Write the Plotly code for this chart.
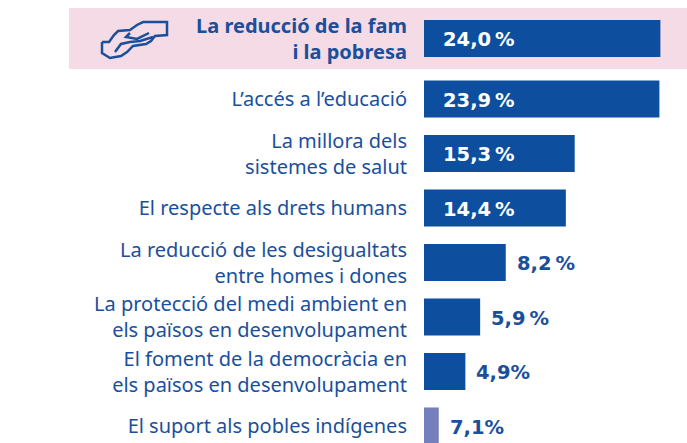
import plotly.graph_objects as go

categories = [
    "<b>La reducció de la fam<br>i la pobresa</b>",
    "L’accés a l’educació",
    "La millora dels<br>sistemes de salut",
    "El respecte als drets humans",
    "La reducció de les desigualtats<br>entre homes i dones",
    "La protecció del medi ambient en<br>els països en desenvolupament",
    "El foment de la democràcia en<br>els països en desenvolupament",
    "El suport als pobles indígenes",
]
bar_values = [24.0, 23.9, 15.3, 14.4, 8.3, 5.7, 4.2, 1.5]
value_labels = ["24,0\u2009%", "23,9\u2009%", "15,3\u2009%", "14,4\u2009%", "8,2\u2009%", "5,9\u2009%", "4,9%", "7,1%"]
row_positions = [0, 1.11, 2.11, 3.11, 4.11, 5.11, 6.11, 7.11]
bar_colors = ["#0d4f9e"] * 7 + ["#757fbb"]

W, H = 687, 443
BLUE = "#1a4f9c"
LABEL_FONT = "Noto Sans"
VALUE_FONT = "DejaVu Sans"
X0 = 424
PX_PER_UNIT = 9.85
ROW_PX = 54.5
ROW0_PX = 38.5

def px(x): return x / W
def py(y): return 1 - y / H

fig = go.Figure(go.Bar(
    x=bar_values, y=row_positions, orientation="h", width=0.68,
    marker=dict(color=bar_colors, line=dict(width=0)), hoverinfo="skip",
))

annotations = []
for v, r, t in zip(bar_values, row_positions, value_labels):
    inside = v > 10
    annotations.append(dict(
        x=0 if inside else v, y=r, xref="x", yref="y", text=f"<b>{t}</b>", showarrow=False,
        xanchor="left", xshift=17 if inside else 9, yanchor="middle", yshift=-1,
        font=dict(family=VALUE_FONT, size=19.5, color="#ffffff" if inside else BLUE),
    ))

def hands_path():
    segs = [
        [(102, 42), (109, 42), (114, 35), (118, 31), (130, 30), (137, 25), (143, 22), (167, 22),
         (167, 35), (155, 36), (151, 41), (146, 44), (133, 46), (127, 52), (121, 56), (110, 58),
         (102, 53), (102, 42)],
        [(130, 33), (126, 37), (137, 39), (149, 33)],
        [(115, 52), (121, 44), (130, 42), (140, 41), (153, 37)],
    ]
    return " ".join("M " + " L ".join(f"{px(x):.4f},{py(y):.4f}" for x, y in s) for s in segs)

fig.update_layout(
    width=W, height=H, margin=dict(l=0, r=0, t=0, b=0), autosize=False,
    paper_bgcolor="white", plot_bgcolor="rgba(0,0,0,0)", showlegend=False,
    xaxis=dict(domain=[X0 / W, 1], range=[0, (W - X0) / PX_PER_UNIT], visible=False),
    yaxis=dict(
        range=[(H - ROW0_PX) / ROW_PX, -ROW0_PX / ROW_PX],
        tickmode="array", tickvals=row_positions, ticktext=categories,
        tickfont=dict(family=LABEL_FONT, size=20, color=BLUE),
        ticks="", ticklabelstandoff=16, showgrid=False, zeroline=False, showline=False,
    ),
    annotations=annotations,
    shapes=[
        dict(type="rect", xref="paper", yref="paper", x0=px(69), x1=1, y0=py(69), y1=py(8),
             fillcolor="#f4dbe5", line=dict(width=0), layer="below"),
        dict(type="path", xref="paper", yref="paper", path=hands_path(),
             line=dict(color=BLUE, width=2.5), layer="above"),
    ],
)
fig.write_html("out.html", config={"displayModeBar": False},
               post_script="document.body.style.margin='0';document.documentElement.style.overflow='hidden';")
